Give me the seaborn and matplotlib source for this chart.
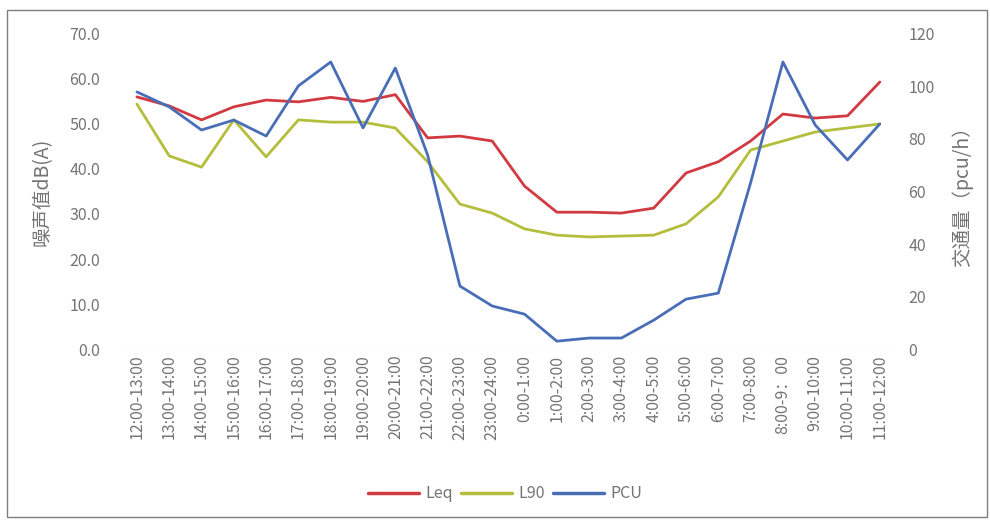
import matplotlib
matplotlib.use("Agg")
import matplotlib.pyplot as plt
from matplotlib.patches import Rectangle
from matplotlib.lines import Line2D
import seaborn as sns
import pandas as pd

sns.set_theme(style="white")
plt.rcParams["font.family"] = ["Noto Sans CJK SC", "DejaVu Sans"]

periods = [
    "12:00-13:00", "13:00-14:00", "14:00-15:00", "15:00-16:00", "16:00-17:00",
    "17:00-18:00", "18:00-19:00", "19:00-20:00", "20:00-21:00", "21:00-22:00",
    "22:00-23:00", "23:00-24:00", "0:00-1:00", "1:00-2:00", "2:00-3:00",
    "3:00-4:00", "4:00-5:00", "5:00-6:00", "6:00-7:00", "7:00-8:00",
    "8:00-9：00", "9:00-10:00", "10:00-11:00", "11:00-12:00",
]
leq = [56.0, 54.0, 50.9, 53.8, 55.3, 54.9, 55.9, 55.0, 56.5, 46.9, 47.3, 46.2,
       36.2, 30.4, 30.4, 30.2, 31.3, 39.1, 41.6, 46.2, 52.2, 51.3, 51.8, 59.3]
l90 = [54.4, 42.9, 40.4, 50.9, 42.7, 50.9, 50.4, 50.4, 49.1, 41.6, 32.2, 30.2,
       26.7, 25.3, 24.9, 25.1, 25.3, 27.8, 33.8, 44.2, 46.2, 48.2, 49.1, 50.0]
pcu = [97.9, 92.2, 83.4, 87.2, 81.1, 100.2, 109.3, 84.2, 107.0, 73.9, 24.0, 16.4,
       13.3, 3.0, 4.2, 4.2, 11.0, 19.0, 21.3, 63.3, 109.3, 85.3, 72.0, 85.7]

series_names = ["Leq", "L90", "PCU"]
colors = {"Leq": "#D23A41", "L90": "#B4BE3C", "PCU": "#4A6DB8"}
text_color = "#747474"

df = pd.DataFrame({"idx": range(len(periods)), "Leq": leq, "L90": l90, "PCU": pcu})

fig = plt.figure(figsize=(9.9, 5.21), dpi=100)
ax = fig.add_axes([0.122, 0.330, 0.783, 0.605])
ax2 = ax.twinx()

sns.lineplot(data=df, x="idx", y="Leq", ax=ax, color=colors["Leq"], linewidth=2.0)
sns.lineplot(data=df, x="idx", y="L90", ax=ax, color=colors["L90"], linewidth=2.0)
sns.lineplot(data=df, x="idx", y="PCU", ax=ax2, color=colors["PCU"], linewidth=2.0)

ax.set_xlim(-0.5, len(periods) - 0.5)
ax.set_ylim(0, 70)
ax2.set_ylim(0, 120)
ax.set_yticks(range(0, 71, 10))
ax.set_yticklabels([f"{v:.1f}" for v in range(0, 71, 10)])
ax2.set_yticks(range(0, 121, 20))

ax.set_xticks(range(len(periods)))
ax.set_xticklabels(periods, rotation=90)

for a in (ax, ax2):
    for s in a.spines.values():
        s.set_visible(False)
    a.tick_params(axis="both", length=0, labelsize=11.5, colors=text_color)
    a.grid(False)
ax.tick_params(axis="y", pad=15)
ax2.tick_params(axis="y", pad=9)
ax.tick_params(axis="x", pad=4)
ax.axhline(0, color="#E6E6E6", linewidth=1.0, zorder=0)

ax.set_xlabel("")
ax.set_ylabel("噪声值dB(A)", fontsize=14, color=text_color, labelpad=12)
ax2.set_ylabel("交通量（pcu/h）", fontsize=14, color=text_color, labelpad=12)

handles = [Line2D([0], [0], color=colors[n], linewidth=2.5) for n in series_names]
fig.legend(handles, series_names, loc="center", bbox_to_anchor=(0.51, 0.052),
           ncol=3, frameon=False, fontsize=11.5, labelcolor=text_color,
           handlelength=3.2, columnspacing=0.5, handletextpad=0.4)

fig.patches.append(Rectangle((0.007, 0.008), 0.99, 0.972, transform=fig.transFigure,
                             fill=False, edgecolor="#7F7F7F", linewidth=1.0))

fig.savefig("out.png", dpi=100, facecolor="white")
